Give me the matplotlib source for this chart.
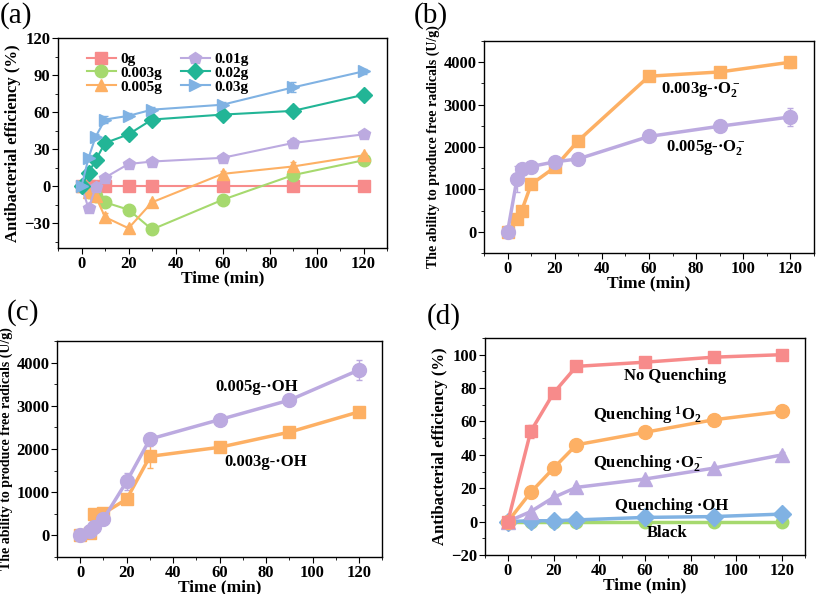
import matplotlib
matplotlib.use("Agg")
import matplotlib.pyplot as plt
from matplotlib.ticker import MultipleLocator
from matplotlib.lines import Line2D

plt.rcParams['font.family'] = ['Liberation Serif', 'DejaVu Serif']
plt.rcParams['font.weight'] = 'bold'
plt.rcParams['mathtext.fontset'] = 'custom'
plt.rcParams['mathtext.rm'] = 'Liberation Serif:bold'
plt.rcParams['mathtext.it'] = 'Liberation Serif:bold'
plt.rcParams['mathtext.bf'] = 'Liberation Serif:bold'

# (a) antibacterial efficiency vs dose
t_a = [0, 3, 6, 10, 20, 30, 60, 90, 120]
a_0g = [0, 0, 0, 0, 0, 0, 0, 0, 0]
a_0003 = [0, -5, -8, -13, -19, -35, -11, 9, 21]
a_0005 = [0, -5, -8, -25, -34, -13, 10, 16, 25]
a_001 = [0, -18, -1, 7, 18, 20, 23, 35, 42]
a_002 = [0, 11, 21, 35, 42, 54, 58, 61, 74]
a_003 = [0, 23, 40, 54, 57, 62, 66, 80, 93]
a_err = [0, 2, 2, 3, 2, 2, 2, 4, 2]

# (b) superoxide
t_b = [0, 4, 6, 10, 20, 30, 60, 90, 120]
b_0003 = [0, 300, 500, 1120, 1520, 2150, 3670, 3770, 4000]
b_0005 = [0, 1250, 1480, 1540, 1650, 1720, 2250, 2490, 2710]
b_err3 = [0, 60, 60, 80, 80, 120, 60, 60, 130]
b_err5 = [0, 300, 100, 60, 60, 60, 60, 60, 220]

# (c) hydroxyl
t_c = [0, 4, 6, 10, 20, 30, 60, 90, 120]
c_0003 = [0, 50, 490, 510, 840, 1830, 2040, 2390, 2860]
c_0005 = [0, 100, 200, 380, 1250, 2230, 2680, 3130, 3830]
c_err3 = [0, 40, 60, 60, 80, 270, 50, 60, 80]
c_err5 = [0, 40, 60, 150, 200, 150, 60, 60, 240]

# (d) quenching
t_d = [0, 10, 20, 30, 60, 90, 120]
d_none = [0, 54, 77, 93, 95.5, 98.5, 100]
d_1o2 = [0, 17.5, 32, 46, 53.5, 61, 66]
d_o2 = [0, 6, 14.5, 20.5, 25.5, 32, 40]
d_oh = [0, 0.5, 0.5, 1, 2.5, 3, 4.5]
d_black = [0, 0, 0, 0, 0, 0, 0]
d_err = [0, 3.5, 4, 2, 1, 1, 1]

RED = '#F78B8B'
GREEN = '#A6D96E'
ORANGE = '#FDB064'
PURPLE = '#BCAAE0'
TEAL = '#22B596'
BLUE = '#80B2E3'


def style(ax, xlim, ylim, ymaj, ymin, ylabel, ylabelsize):
    ax.set_xlim(*xlim)
    ax.set_ylim(*ylim)
    ax.xaxis.set_major_locator(MultipleLocator(20))
    ax.xaxis.set_minor_locator(MultipleLocator(10))
    ax.yaxis.set_major_locator(MultipleLocator(ymaj))
    ax.yaxis.set_minor_locator(MultipleLocator(ymin))
    ax.tick_params(which='both', direction='out', labelsize=12, pad=1.5)
    ax.tick_params(which='major', length=4)
    ax.tick_params(which='minor', length=2)
    for s in ax.spines.values():
        s.set_linewidth(1.0)
    ax.set_xlabel('Time (min)', fontsize=12.5, fontweight='bold', labelpad=-1)
    ax.set_ylabel(ylabel, fontsize=ylabelsize, fontweight='bold', labelpad=2)
    for lab in ax.get_xticklabels() + ax.get_yticklabels():
        lab.set_fontweight('bold')


def series(ax, x, y, err, color, marker, lw=1.5, ms=9):
    ax.errorbar(x, y, yerr=err, color=color, marker=marker, markersize=ms,
                linewidth=lw, capsize=2, elinewidth=1)
    return Line2D([], [], color=color, marker=marker, markersize=ms, linewidth=lw)


fig = plt.figure(figsize=(8.17, 5.94), dpi=100)

# panel a
ax = fig.add_axes([0.071, 0.5825, 0.4027, 0.3535])
h = []
h.append(series(ax, t_a, a_0g, [0] * 9, RED, 's'))
h.append(series(ax, t_a, a_0003, a_err, GREEN, 'o'))
h.append(series(ax, t_a, a_0005, a_err, ORANGE, '^'))
h.append(series(ax, t_a, a_001, a_err, PURPLE, 'p'))
h.append(series(ax, t_a, a_002, a_err, TEAL, 'D', ms=8))
h.append(series(ax, t_a, a_003, a_err, BLUE, '>'))
style(ax, (-10, 130), (-50, 120), 30, 15, 'Antibacterial efficiency (%)', 12)
ax.legend(h, ['0g', '0.003g', '0.005g', '0.01g', '0.02g', '0.03g'],
          ncol=2, loc='upper left', frameon=False, fontsize=11,
          handlelength=1.9, handletextpad=0.3, columnspacing=1.2,
          labelspacing=0.0, borderaxespad=0.2, bbox_to_anchor=(0.06, 0.975))

# panel b
ax = fig.add_axes([0.5924, 0.574, 0.404, 0.357])
series(ax, t_b, b_0003, b_err3, ORANGE, 's', lw=2.5, ms=9)
series(ax, t_b, b_0005, b_err5, PURPLE, 'o', lw=2.5, ms=10)
style(ax, (-10, 130), (-500, 4500), 1000, 500,
      'The ability to produce free radicals (U/g)', 10)
ax.text(65, 3360, '0.003g-·O$_2^-$', fontsize=12, fontweight='bold', va='center')
ax.text(67, 1980, '0.005g-·O$_2^-$', fontsize=12, fontweight='bold', va='center')

# panel c
ax = fig.add_axes([0.0698, 0.0623, 0.398, 0.3636])
series(ax, t_c, c_0003, c_err3, ORANGE, 's', lw=2.5, ms=9)
series(ax, t_c, c_0005, c_err5, PURPLE, 'o', lw=2.5, ms=10)
style(ax, (-10, 130), (-500, 4500), 1000, 500,
      'The ability to produce free radicals (U/g)', 10)
ax.text(58, 3440, '0.005g-·OH', fontsize=12, fontweight='bold', va='center')
ax.text(62, 1700, '0.003g-·OH', fontsize=12, fontweight='bold', va='center')

# panel d
ax = fig.add_axes([0.5936, 0.0657, 0.3917, 0.3653])
series(ax, t_d, d_black, [0] * 7, GREEN, 'o', lw=2.5, ms=9)
series(ax, t_d, d_oh, [0] * 7, BLUE, 'D', lw=2.5, ms=9)
series(ax, t_d, d_o2, [0, 1, 1.5, 1.5, 1.5, 1.5, 1.5], PURPLE, '^', lw=2.5, ms=10)
series(ax, t_d, d_1o2, d_err, ORANGE, 'o', lw=2.5, ms=10)
series(ax, t_d, d_none, [0, 4, 1.5, 2, 1, 1, 1], RED, 's', lw=2.5, ms=9)
style(ax, (-10, 130), (-20, 110), 20, 10, 'Antibacterial efficiency (%)', 12)
kw = dict(fontsize=12, fontweight='bold', ha='center', va='center')
ax.text(73, 87, 'No Quenching', **kw)
ax.text(61, 64, 'Quenching $^1$O$_2$', **kw)
ax.text(61.5, 35, 'Quenching ·O$_2^-$', **kw)
ax.text(71.5, 9.5, 'Quenching ·OH', **kw)
ax.text(69.5, -7, 'Black', **kw)

# panel letters
for x, y, s in [(0.0, 0.997, '(a)'), (0.506, 0.997, '(b)'),
                (0.008, 0.497, '(c)'), (0.522, 0.49, '(d)')]:
    fig.text(x, y, s, fontsize=21, fontweight='normal', ha='left', va='top')

fig.savefig('out.png', dpi=100)
